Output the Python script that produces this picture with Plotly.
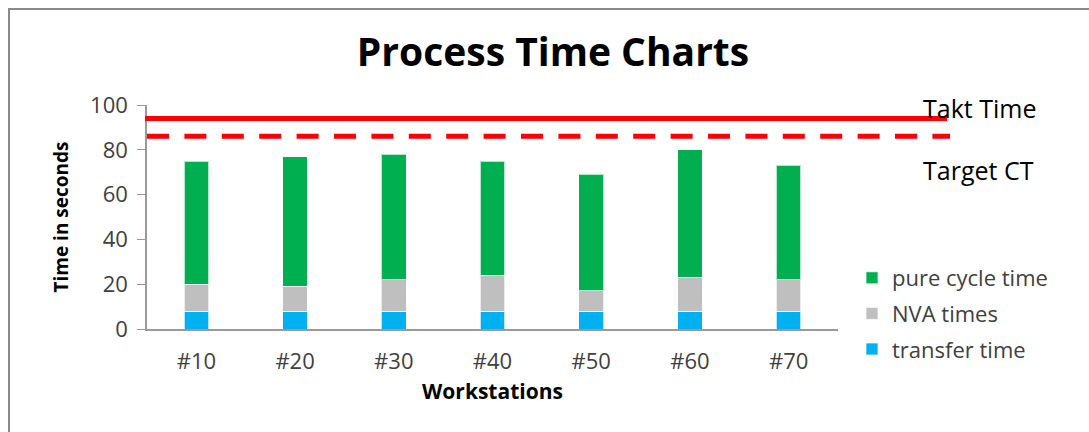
import plotly.graph_objects as go

workstations = ["#10", "#20", "#30", "#40", "#50", "#60", "#70"]
transfer_time = [8, 8, 8, 8, 8, 8, 8]
nva_times = [12, 11, 14, 16, 9, 15, 14]
pure_cycle_time = [55, 58, 56, 51, 52, 57, 51]
takt_time = 94
target_ct = 86
y_ticks = [0, 20, 40, 60, 80, 100]

FONT = "Open Sans"
W, H = 1089, 432
L, R, T, B = 147, 1089 - 838, 105, 432 - 329
PW = W - L - R
PH = H - T - B

def px_x(px):
    return (px - L) / PW

def px_y(py):
    return (H - B - py) / PH

fig = go.Figure()
series = [
    ("transfer time", transfer_time, "#00B0F0", 3),
    ("NVA times", nva_times, "#BFBFBF", 2),
    ("pure cycle time", pure_cycle_time, "#00B050", 1),
]
for name, vals, col, rank in series:
    fig.add_trace(go.Bar(
        x=workstations, y=vals, name=name, legendgroup=name, legendrank=rank,
        marker=dict(color=col, line=dict(color="rgba(255,255,255,0.7)", width=1)),
        width=0.25,
    ))

# reference lines
fig.add_shape(type="line", xref="paper", yref="y", x0=px_x(145), x1=px_x(947),
              y0=takt_time, y1=takt_time, line=dict(color="#FF0000", width=5))
fig.add_shape(type="line", xref="paper", yref="y", x0=px_x(147), x1=px_x(950),
              y0=target_ct, y1=target_ct, line=dict(color="#FF0000", width=5, dash="22px,15.4px"))

# outer border
fig.add_shape(type="rect", xref="paper", yref="paper", x0=px_x(9), x1=px_x(1200),
              y0=px_y(600), y1=px_y(9), line=dict(color="#8A8A8A", width=2), layer="below")

fig.add_annotation(xref="paper", yref="paper", x=px_x(921), y=px_y(108), xanchor="left",
                   yanchor="middle", text="Takt Time", showarrow=False,
                   font=dict(family=FONT, size=25, color="#000000"))
fig.add_annotation(xref="paper", yref="paper", x=px_x(921), y=px_y(170), xanchor="left",
                   yanchor="middle", text="Target CT", showarrow=False,
                   font=dict(family=FONT, size=25, color="#000000"))

fig.update_layout(
    width=W, height=H,
    margin=dict(l=L, r=R, t=T, b=B, autoexpand=False),
    paper_bgcolor="white", plot_bgcolor="white",
    barmode="stack",
    font=dict(family=FONT, color="#404040"),
    title=dict(text="<b>Process Time Charts</b>", x=553 / W, xanchor="center",
               y=1 - 52 / H, yanchor="middle", xref="container",
               font=dict(family=FONT, size=39, color="#000000")),
    showlegend=True,
    legend=dict(x=px_x(852), xanchor="left", y=px_y(257), yanchor="top",
                traceorder="grouped", tracegroupgap=4,
                font=dict(family=FONT, size=22, color="#404040"),
                bgcolor="rgba(0,0,0,0)"),
    xaxis=dict(showline=True, linecolor="#9A9A9A", linewidth=1.5, ticks="",
               showgrid=False, tickfont=dict(size=22, color="#404040"),
               ticklabelstandoff=12,
               title=dict(text="<b>Workstations</b>", font=dict(size=21, color="#000000"),
                          standoff=10)),
    yaxis=dict(range=[0, 100], tickvals=y_ticks, showline=True, linecolor="#9A9A9A",
               linewidth=1.5, ticks="outside", ticklen=8, tickcolor="#9A9A9A",
               showgrid=False, zeroline=False, tickfont=dict(size=22, color="#404040"),
               ticklabelstandoff=5,
               title=dict(text="<b>Time in seconds</b>", font=dict(size=19, color="#000000"),
                          standoff=16)),
)

fig.write_html("out.html")
